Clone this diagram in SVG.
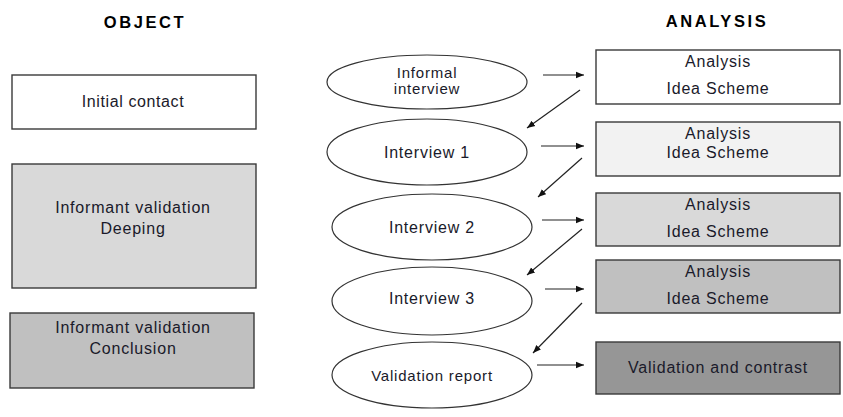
<svg xmlns="http://www.w3.org/2000/svg" width="843" height="417" viewBox="0 0 843 417">
<defs>
<marker id="ah" viewBox="0 0 10 10" refX="10" refY="5" markerWidth="8" markerHeight="8" markerUnits="userSpaceOnUse" orient="auto">
<path d="M0,1 L10,5 L0,9 z" fill="#111"/>
</marker>
<style>
text{font-family:"Liberation Sans",Arial,sans-serif;font-size:16px;fill:#1a1a2a;text-anchor:middle;letter-spacing:0.8px}
.t{font-weight:bold;font-size:16.5px;letter-spacing:2.6px;fill:#000}
.box{stroke:#3a3a3a;stroke-width:1.4}
.ell{fill:#fff;stroke:#333;stroke-width:1.2}
.c{stroke:#222;stroke-width:1.2;fill:none;marker-end:url(#ah)}
</style>
</defs>
<rect width="843" height="417" fill="#fff"/>
<g id="title-object"><text class="t" x="145" y="28">OBJECT</text></g>
<g id="title-analysis"><text class="t" x="717" y="27">ANALYSIS</text></g>

<g id="initial-contact"><rect class="box" x="12" y="75" width="244" height="54" fill="#fff"/><text x="133" y="107" style="letter-spacing:0.6px">Initial contact</text></g>
<g id="informant-deeping"><rect class="box" x="12" y="164" width="244" height="124" fill="#d9d9d9"/><text x="133" y="213">Informant validation</text><text x="133" y="234">Deeping</text></g>
<g id="informant-conclusion"><rect class="box" x="10" y="313" width="244" height="75" fill="#c0c0c0"/><text x="133" y="333">Informant validation</text><text x="133" y="354">Conclusion</text></g>

<g id="informal-interview"><ellipse class="ell" cx="427" cy="82" rx="100" ry="27"/><text x="427" y="78" style="font-size:15px">Informal</text><text x="427" y="94" style="font-size:15px">interview</text></g>
<g id="interview-1"><ellipse class="ell" cx="427" cy="152" rx="100" ry="33"/><text x="427" y="158">Interview 1</text></g>
<g id="interview-2"><ellipse class="ell" cx="432" cy="227" rx="100" ry="33"/><text x="432" y="233">Interview 2</text></g>
<g id="interview-3"><ellipse class="ell" cx="432" cy="301" rx="100" ry="34"/><text x="432" y="304">Interview 3</text></g>
<g id="validation-report"><ellipse class="ell" cx="432" cy="375" rx="100" ry="33"/><text x="432" y="381" style="font-size:15px">Validation report</text></g>

<g id="analysis-1"><rect class="box" x="596" y="50" width="244" height="54" fill="#fff"/><text x="718" y="67">Analysis</text><text x="718" y="94">Idea Scheme</text></g>
<g id="analysis-2"><rect class="box" x="596" y="122" width="244" height="54" fill="#f2f2f2"/><text x="718" y="139">Analysis</text><text x="718" y="158">Idea Scheme</text></g>
<g id="analysis-3"><rect class="box" x="596" y="193" width="244" height="53" fill="#d9d9d9"/><text x="718" y="210">Analysis</text><text x="718" y="237">Idea Scheme</text></g>
<g id="analysis-4"><rect class="box" x="596" y="260" width="244" height="53" fill="#c0c0c0"/><text x="718" y="277">Analysis</text><text x="718" y="304">Idea Scheme</text></g>
<g id="validation-contrast"><rect class="box" x="596" y="342" width="244" height="52" fill="#969696"/><text x="718" y="373">Validation and contrast</text></g>

<g id="connectors">
<line class="c" x1="543" y1="75" x2="584" y2="75"/>
<line class="c" x1="541" y1="146" x2="584" y2="146"/>
<line class="c" x1="542" y1="220" x2="584" y2="220"/>
<line class="c" x1="545" y1="289" x2="584" y2="289"/>
<line class="c" x1="537" y1="365" x2="584" y2="365"/>
<line class="c" x1="580" y1="90" x2="527" y2="128"/>
<line class="c" x1="582" y1="158" x2="538" y2="197"/>
<line class="c" x1="582" y1="229" x2="527" y2="275"/>
<line class="c" x1="582" y1="303" x2="533" y2="353"/>
</g>
</svg>
